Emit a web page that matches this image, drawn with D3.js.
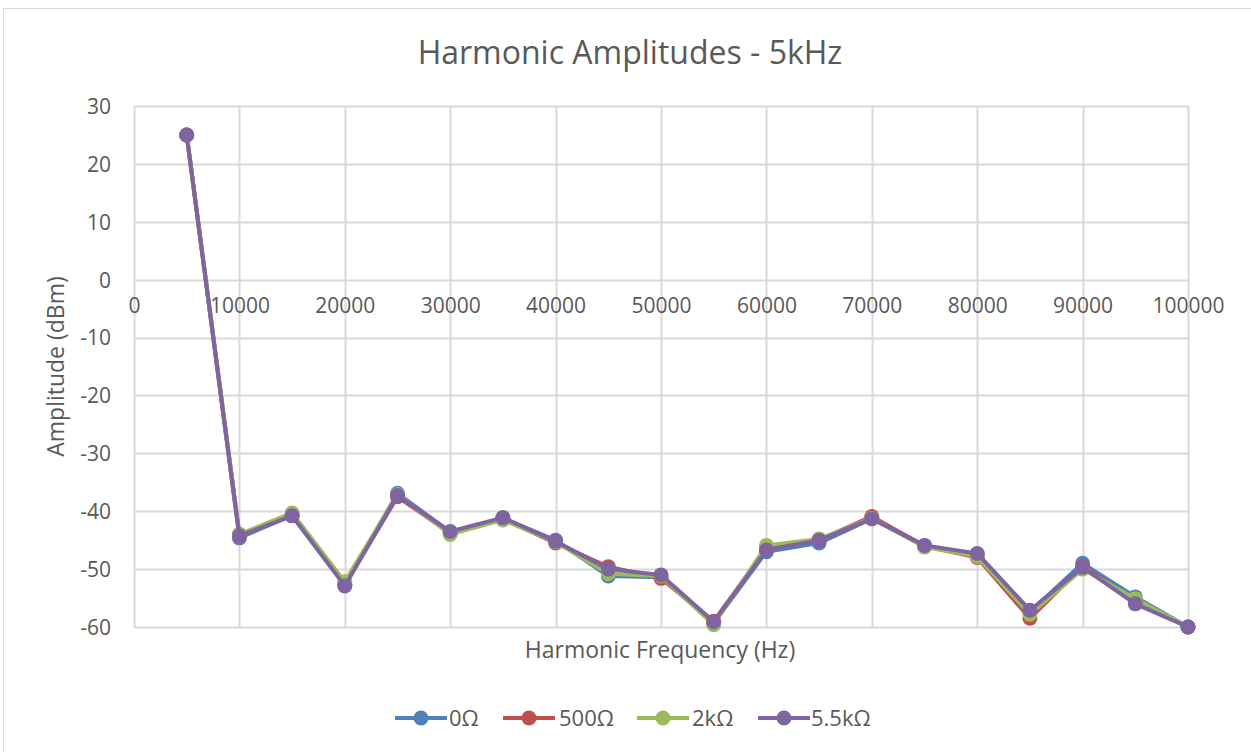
<!DOCTYPE html>
<html>
<head>
<meta charset="utf-8">
<script src="https://cdn.jsdelivr.net/npm/d3@7"></script>
<style>
  html, body { margin: 0; padding: 0; background: #fff; }
  svg { display: block; font-family: "Open Sans", "Noto Sans", sans-serif; }
</style>
</head>
<body>
<svg id="chart" width="1251" height="752"></svg>
<script>
// Harmonic frequencies (Hz)
const frequencies = [5000, 10000, 15000, 20000, 25000, 30000, 35000, 40000, 45000, 50000,
                     55000, 60000, 65000, 70000, 75000, 80000, 85000, 90000, 95000, 100000];

// Amplitude (dBm) per load resistance
const amp0 =    [25, -44.6, -40.7, -52.7, -36.9, -43.6, -41.2, -45.0, -51.2, -51.4,
                 -59.3, -47.0, -45.5, -41.3, -46.0, -47.5, -57.4, -49.0, -54.8, -60];
const amp500 =  [25, -44.0, -40.7, -52.6, -37.5, -43.8, -41.3, -45.5, -49.6, -51.6,
                 -59.0, -46.5, -45.0, -40.9, -46.0, -48.0, -58.5, -49.5, -55.5, -60];
const amp2k =   [25, -44.0, -40.3, -52.2, -37.1, -44.0, -41.5, -45.3, -50.8, -51.2,
                 -59.6, -45.9, -44.8, -41.2, -46.2, -47.8, -57.8, -50.0, -55.1, -60];
const amp5k5 =  [25, -44.3, -40.8, -52.9, -37.3, -43.5, -41.1, -45.2, -50.0, -51.0,
                 -59.1, -46.7, -45.0, -41.3, -45.9, -47.3, -57.1, -49.7, -56.0, -60];

const seriesNames = ["0Ω", "500Ω", "2kΩ", "5.5kΩ"];
const seriesValues = [amp0, amp500, amp2k, amp5k5];
const seriesColors = ["#4F81BD", "#C0504D", "#9BBB59", "#8064A2"];

const xTicks = d3.range(0, 100001, 10000);
const yTicks = d3.range(-60, 31, 10);

const svg = d3.select("#chart");
const textColor = "#595959";
const gridColor = "#d9d9d9";

// Chart frame
svg.append("rect")
  .attr("x", 3.5).attr("y", 8.5)
  .attr("width", 1270).attr("height", 770)
  .attr("fill", "#fff").attr("stroke", gridColor).attr("stroke-width", 1);

const plot = { left: 134, right: 1188, top: 106, bottom: 627 };

const x = d3.scaleLinear().domain([0, 100000]).range([plot.left, plot.right]);
const y = d3.scaleLinear().domain([-60, 30]).range([plot.bottom, plot.top]);

// Horizontal gridlines
svg.append("g")
  .selectAll("line")
  .data(yTicks)
  .join("line")
  .attr("x1", plot.left).attr("x2", plot.right)
  .attr("y1", d => Math.round(y(d)) + 0.5).attr("y2", d => Math.round(y(d)) + 0.5)
  .attr("stroke", gridColor).attr("stroke-width", 2);

// Vertical gridlines
svg.append("g")
  .selectAll("line")
  .data(xTicks)
  .join("line")
  .attr("x1", d => Math.round(x(d)) + 0.5).attr("x2", d => Math.round(x(d)) + 0.5)
  .attr("y1", plot.top).attr("y2", plot.bottom)
  .attr("stroke", gridColor).attr("stroke-width", 2);

// Y axis tick labels (plain hyphen for negatives)
const yAxis = d3.axisLeft(y).tickValues(yTicks).tickSize(0).tickPadding(0).tickFormat(d => String(d));
const gy = svg.append("g").attr("transform", `translate(${plot.left - 23},0)`).call(yAxis);
gy.select(".domain").remove();
gy.selectAll("text")
  .attr("fill", textColor).attr("font-size", 21)
  .attr("font-family", "'Open Sans', 'Noto Sans', sans-serif")
  .attr("dy", "0.35em");

// X axis tick labels, placed just below the zero line
const xAxis = d3.axisBottom(x).tickValues(xTicks).tickSize(0).tickPadding(0).tickFormat(d => String(d));
const gx = svg.append("g").attr("transform", `translate(0,${y(0) + 18})`).call(xAxis);
gx.select(".domain").remove();
gx.selectAll("text")
  .attr("fill", textColor).attr("font-size", 21)
  .attr("font-family", "'Open Sans', 'Noto Sans', sans-serif")
  .attr("dy", "0.71em");

// Title
svg.append("text")
  .attr("x", 630).attr("y", 64)
  .attr("text-anchor", "middle")
  .attr("fill", textColor).attr("font-size", 32)
  .text("Harmonic Amplitudes - 5kHz");

// Axis titles
svg.append("text")
  .attr("x", 660).attr("y", 658)
  .attr("text-anchor", "middle")
  .attr("fill", textColor).attr("font-size", 23)
  .text("Harmonic Frequency (Hz)");

svg.append("text")
  .attr("transform", `translate(64,${(plot.top + plot.bottom) / 2}) rotate(-90)`)
  .attr("text-anchor", "middle")
  .attr("fill", textColor).attr("font-size", 23)
  .text("Amplitude (dBm)");

// Series lines and markers
const line = d3.line()
  .x((d, i) => x(frequencies[i]))
  .y(d => y(d));

seriesValues.forEach((vals, si) => {
  const g = svg.append("g");
  g.append("path")
    .datum(vals)
    .attr("d", line)
    .attr("fill", "none")
    .attr("stroke", seriesColors[si])
    .attr("stroke-width", 4)
    .attr("stroke-linejoin", "round");
  g.selectAll("circle")
    .data(vals)
    .join("circle")
    .attr("cx", (d, i) => x(frequencies[i]))
    .attr("cy", d => y(d))
    .attr("r", 7.5)
    .attr("fill", seriesColors[si]);
});

// Legend
const legendItems = [
  { x: 395, tx: 449 },
  { x: 503, tx: 559 },
  { x: 637, tx: 692 },
  { x: 758, tx: 811 }
];
const legendY = 718;
const lg = svg.append("g");
seriesNames.forEach((name, i) => {
  const it = legendItems[i];
  lg.append("line")
    .attr("x1", it.x).attr("x2", it.x + 52)
    .attr("y1", legendY).attr("y2", legendY)
    .attr("stroke", seriesColors[i]).attr("stroke-width", 4);
  lg.append("circle")
    .attr("cx", it.x + 26).attr("cy", legendY).attr("r", 7.5)
    .attr("fill", seriesColors[i]);
  lg.append("text")
    .attr("x", it.tx).attr("y", legendY)
    .attr("dy", "0.35em")
    .attr("fill", textColor).attr("font-size", 22)
    .text(name);
});
</script>
</body>
</html>
